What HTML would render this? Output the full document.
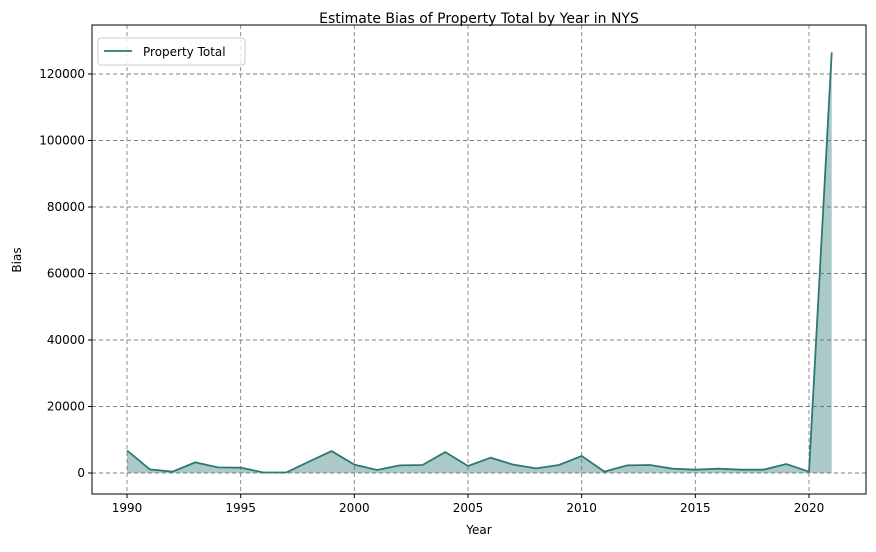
<!DOCTYPE html>
<html><head><meta charset="utf-8"><style>
body{margin:0;background:#fff;font-family:"Liberation Sans","DejaVu Sans",sans-serif}
svg text{font-family:"DejaVu Sans","Liberation Sans",sans-serif;fill:#000}
</style></head><body>
<svg id="chart" width="876" height="547"></svg>
<script>
const years=[1990,1991,1992,1993,1994,1995,1996,1997,1998,1999,2000,2001,2002,2003,2004,2005,2006,2007,2008,2009,2010,2011,2012,2013,2014,2015,2016,2017,2018,2019,2020,2021];
const bias=[6800,1100,400,3200,1700,1600,150,150,3400,6600,2500,900,2300,2400,6300,2100,4600,2500,1400,2400,5100,400,2300,2400,1300,1000,1300,1000,1000,2700,400,126500];
const xTicks=[1990,1995,2000,2005,2010,2015,2020];
const yTicks=[0,20000,40000,60000,80000,100000,120000];
const NS="http://www.w3.org/2000/svg",svg=document.getElementById('chart');
const L=92,R=866,T=25,B=494;
const xs=y=>127+(y-1990)*(809-127)/30;
const ys=v=>473-v*399/120000;
function mk(t,a,p){const e=document.createElementNS(NS,t);for(const k in a)e.setAttribute(k,a[k]);(p||svg).appendChild(e);return e;}
const title=mk('text',{x:479,y:23,'text-anchor':'middle','font-size':14});title.textContent='Estimate Bias of Property Total by Year in NYS';


xTicks.forEach(t=>{const x=xs(t);
 const g=mk('line',{x1:x,x2:x,y1:T,y2:B,stroke:'#808080','stroke-dasharray':'4,3','stroke-width':0.9});
 
 
 mk('line',{x1:x,x2:x,y1:B,y2:B+4,stroke:'#000'});
 const tx=mk('text',{x:x,y:B+18,'text-anchor':'middle','font-size':12});tx.textContent=t;
 
 });
yTicks.forEach(t=>{const y=ys(t);
 const g=mk('line',{x1:L,x2:R,y1:y,y2:y,stroke:'#808080','stroke-dasharray':'4,3','stroke-width':0.9});
 
 
 mk('line',{x1:L-4,x2:L,y1:y,y2:y,stroke:'#000'});
 const tx=mk('text',{x:L-7,y:y+4,'text-anchor':'end','font-size':12});tx.textContent=t;
 
 });
let pts=years.map((y,i)=>xs(y)+','+ys(bias[i])).join(' ');
const area=mk('polygon',{points:xs(years[0])+','+ys(0)+' '+pts+' '+xs(years[years.length-1])+','+ys(0),fill:'#2e7872','fill-opacity':0.4});


const line=mk('polyline',{points:pts,fill:'none',stroke:'#2e7872','stroke-width':1.8});


mk('rect',{x:L,y:T,width:R-L,height:B-T,fill:'none',stroke:'#000','stroke-width':1});
const xl=mk('text',{x:479,y:534,'text-anchor':'middle','font-size':12});xl.textContent='Year';


const yl=mk('text',{x:21,y:260,'text-anchor':'middle','font-size':12,transform:'rotate(-90 21 260)'});yl.textContent='Bias';


const lg=mk('g',{});


mk('rect',{x:98,y:38,width:147,height:27,rx:3,fill:'#fff','fill-opacity':0.8,stroke:'#ccc'},lg);
mk('line',{x1:104,x2:132,y1:51,y2:51,stroke:'#2e7872','stroke-width':1.8},lg);
const lt=mk('text',{x:143,y:56,'font-size':12},lg);lt.textContent='Property Total';
</script>
</body></html>
